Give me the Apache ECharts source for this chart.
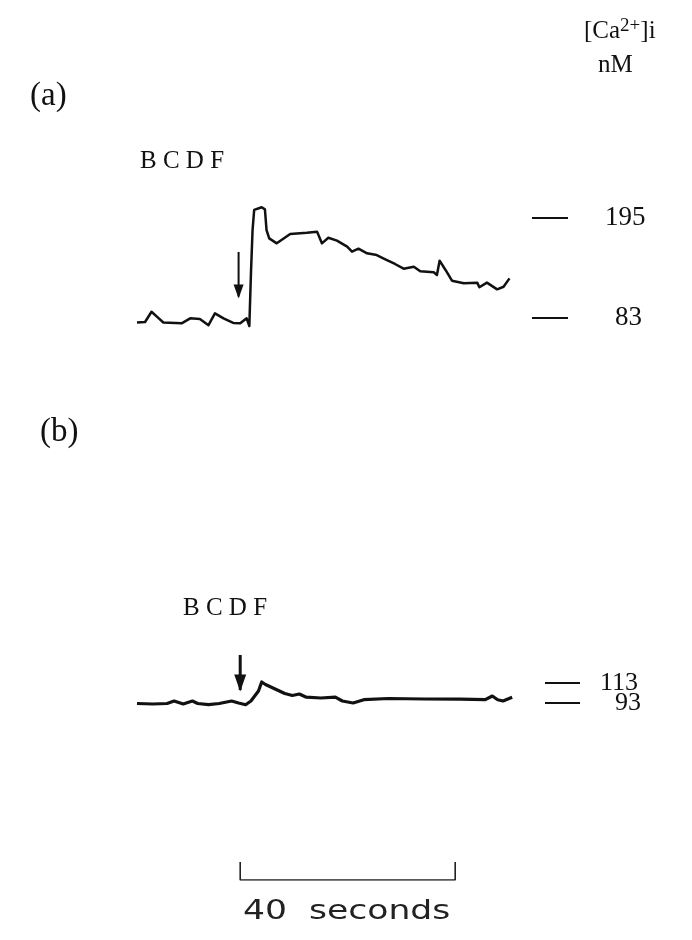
<!DOCTYPE html>
<html>
<head>
<meta charset="utf-8">
<script src="https://cdn.jsdelivr.net/npm/echarts@6/dist/echarts.min.js"></script>
<style>
  html, body { margin: 0; padding: 0; background: #fff; }
  #chart { width: 692px; height: 940px; }
</style>
</head>
<body>
<div id="chart"></div>
<script>
// Trace (a): [Ca2+]i (nM) vs time (s), BCDF added at ~19 s
const timeA = [0, 1.5, 2.7, 3.7, 4.9, 8.3, 9.9, 11.7, 13.3, 14.5, 16.1, 17.9, 19.2, 20.4, 20.9, 21.2, 21.5, 21.8, 23.2, 23.8, 24.1, 24.6, 26.0, 28.5, 31.6, 33.5, 34.4, 35.6, 37.2, 39.1, 40.0, 41.2, 42.8, 44.6, 46.2, 48.0, 49.6, 51.5, 52.7, 55.2, 55.8, 56.3, 57.4, 58.6, 60.8, 63.3, 63.7, 65.1, 67.0, 68.2, 69.3];
const caA   = [78, 78.5, 90, 84.5, 78, 77, 82.6, 82, 75, 88.2, 82.6, 77.5, 77, 82.6, 74, 133, 181.5, 204, 207, 204.7, 181.5, 172.2, 166.6, 177, 178.5, 179.7, 166.6, 172.9, 169.6, 162.9, 157.3, 160.6, 155.4, 153.5, 148.7, 143.5, 138.2, 140.5, 135.3, 134.2, 131.2, 147.2, 136.8, 124.8, 121.9, 122.6, 117.4, 122.6, 115.1, 118, 127.4];

// Trace (b)
const timeB = [0, 3.0, 5.6, 6.9, 8.6, 10.3, 11.3, 13.3, 15.3, 17.6, 18.9, 20.2, 21.2, 22.6, 23.2, 23.9, 25.5, 27.5, 28.9, 30.2, 31.5, 34.2, 36.9, 38.2, 40.2, 42.2, 46.8, 53.5, 60.1, 64.8, 66.1, 67.1, 68.1, 69.8];
const caB   = [92.5, 92, 92.5, 95, 92, 95, 92.5, 91.3, 92.5, 95, 93, 91.3, 95, 105, 114, 111.5, 107.5, 102.5, 100.5, 102, 98.8, 98, 98.8, 95, 93, 96.3, 97.5, 97, 96.8, 96.3, 100, 96.3, 95, 98.8];

// Calibration levels (nM) shown at the right of each trace
const refA = [195, 83];
const refB = [113, 93];

// BCDF addition arrows: [time, top nM, tip nM]
const arrowA = [18.9, 157, 107];
const arrowB = [19.2, 141, 106];

// Time scale bar
const scaleStart = 19.2;
const scaleLength = 40;   // seconds

// ---- layout ----
const pxPerSec = 5.375;
const x0 = 137;
const tMax = 84;
const gridW = tMax * pxPerSec;

function gridFor(yMin, yMax, pxPerUnit, anchorVal, anchorY) {
  const top = anchorY - (yMax - anchorVal) * pxPerUnit;
  return { left: x0, top: top, width: gridW, height: (yMax - yMin) * pxPerUnit };
}
const gA = gridFor(60, 220, 0.893, 83, 318);
const gB = gridFor(80, 150, 1.0, 93, 703);
const gC = { left: x0, top: 862, width: gridW, height: 18 };

const hiddenX = i => ({ type: 'value', gridIndex: i, min: 0, max: tMax, show: false });
const serif = 'Liberation Serif, DejaVu Serif, serif';

function refMarks(levels, t1, t2, gaps) {
  return levels.map((v, i) => [
    { coord: [t1, v], label: { formatter: String(v), distance: gaps[i] } },
    { coord: [t2, v] }
  ]);
}

const chart = echarts.init(document.getElementById('chart'), null, { renderer: 'canvas' });
chart.setOption({
  backgroundColor: '#fff',
  animation: false,
  grid: [gA, gB, gC],
  xAxis: [hiddenX(0), hiddenX(1), hiddenX(2)],
  yAxis: [
    { type: 'value', gridIndex: 0, min: 60, max: 220, show: false },
    { type: 'value', gridIndex: 1, min: 80, max: 150, show: false },
    { type: 'value', gridIndex: 2, min: 0, max: 1, show: false }
  ],
  series: [
    {
      type: 'line', xAxisIndex: 0, yAxisIndex: 0,
      data: timeA.map((t, i) => [t, caA[i]]),
      showSymbol: false,
      lineStyle: { color: '#111', width: 2.5, join: 'round' },
      markLine: {
        silent: true, symbol: 'none', animation: false,
        lineStyle: { color: '#111', width: 2.2, type: 'solid' },
        label: { show: true, position: 'end', color: '#111', fontFamily: serif, fontSize: 27 },
        data: refMarks(refA, (532 - x0) / pxPerSec, (568 - x0) / pxPerSec, [37, 47])
      }
    },
    {
      type: 'line', xAxisIndex: 0, yAxisIndex: 0,
      data: [[arrowA[0], arrowA[1]], [arrowA[0], arrowA[2]]],
      showSymbol: false,
      lineStyle: { color: '#111', width: 2 },
      markPoint: {
        silent: true,
        symbol: 'triangle', symbolSize: [10, 14], symbolRotate: 180,
        symbolOffset: [0, -5],
        itemStyle: { color: '#111' },
        label: { show: false },
        data: [{ coord: [arrowA[0], arrowA[2]] }]
      }
    },
    {
      type: 'line', xAxisIndex: 1, yAxisIndex: 1,
      data: timeB.map((t, i) => [t, caB[i]]),
      showSymbol: false,
      lineStyle: { color: '#111', width: 3.2, join: 'round' },
      markLine: {
        silent: true, symbol: 'none', animation: false,
        lineStyle: { color: '#111', width: 2.2, type: 'solid' },
        label: { show: true, position: 'end', color: '#111', fontFamily: serif, fontSize: 26 },
        data: refMarks(refB, (545 - x0) / pxPerSec, (580 - x0) / pxPerSec, [20, 35])
      }
    },
    {
      type: 'line', xAxisIndex: 1, yAxisIndex: 1,
      data: [[arrowB[0], arrowB[1]], [arrowB[0], arrowB[2]]],
      showSymbol: false,
      lineStyle: { color: '#111', width: 3 },
      markPoint: {
        silent: true,
        symbol: 'triangle', symbolSize: [12, 17], symbolRotate: 180,
        symbolOffset: [0, -7],
        itemStyle: { color: '#111' },
        label: { show: false },
        data: [{ coord: [arrowB[0], arrowB[2]] }]
      }
    },
    {
      type: 'line', xAxisIndex: 2, yAxisIndex: 2,
      data: [[scaleStart, 1], [scaleStart, 0], [scaleStart + scaleLength, 0], [scaleStart + scaleLength, 1]],
      showSymbol: false,
      lineStyle: { color: '#222', width: 1.6 }
    }
  ],
  graphic: [
    { type: 'text', left: 584, top: 17, style: {
        text: '[Ca{sup|2+}]i',
        font: '25px ' + serif, fill: '#111',
        rich: { sup: { fontSize: 19, fontFamily: serif, verticalAlign: 'top', padding: [0, 0, 10, 0], fill: '#111' } }
    } },
    { type: 'text', left: 598, top: 53, style: { text: 'nM', font: '25px ' + serif, fill: '#111' } },
    { type: 'text', left: 30, top: 80, style: { text: '(a)', font: '33px ' + serif, fill: '#111' } },
    { type: 'text', left: 40, top: 416, style: { text: '(b)', font: '33px ' + serif, fill: '#111' } },
    { type: 'text', left: 140, top: 149, style: { text: 'B C D F', font: '25px ' + serif, fill: '#111' } },
    { type: 'text', left: 183, top: 596, style: { text: 'B C D F', font: '25px ' + serif, fill: '#111' } },
    { type: 'text', left: 243, top: 899, scaleX: 1.33, style: { text: '40  seconds', font: '26px "DejaVu Sans", sans-serif', fill: '#222' } }
  ]
});
</script>
</body>
</html>
